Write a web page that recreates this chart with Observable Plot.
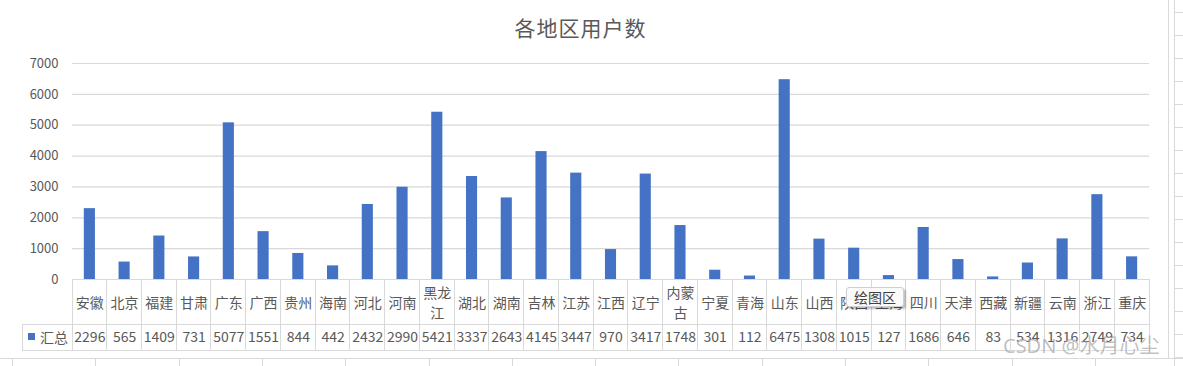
<!DOCTYPE html>
<html>
<head>
<meta charset="utf-8">
<script src="https://cdn.jsdelivr.net/npm/d3@7"></script>
<script src="https://cdn.jsdelivr.net/npm/@observablehq/plot@0.6"></script>
<style>
  body { margin: 0; background: #fff; }
  #wrap { position: relative; width: 1183px; height: 366px; overflow: hidden;
          font-family: "Noto Sans CJK SC", "Noto Sans", sans-serif; color: #595959; background: #fff; }
  .abs { position: absolute; }
  .hl { position: absolute; height: 1px; background: #d9d9d9; }
  .vl { position: absolute; width: 1px; background: #d9d9d9; }
</style>
</head>
<body>
<div id="wrap"></div>
<script>
// ---- data ----
const chartTitle = "各地区用户数";
const seriesName = "汇总";
const regions = ["安徽","北京","福建","甘肃","广东","广西","贵州","海南","河北","河南","黑龙江","湖北","湖南","吉林","江苏","江西","辽宁","内蒙古","宁夏","青海","山东","山西","陕西","上海","四川","天津","西藏","新疆","云南","浙江","重庆"];
const users = [2296,565,1409,731,5077,1551,844,442,2432,2990,5421,3337,2643,4145,3447,970,3417,1748,301,112,6475,1308,1015,127,1686,646,83,534,1316,2749,734];
const yTicks = [0,1000,2000,3000,4000,5000,6000,7000];
const tooltipText = "绘图区";
const watermark = "CSDN @水月心尘";

const data = regions.map((r, i) => ({ region: r, users: users[i] }));
const wrap = document.getElementById("wrap");
const FONT = '"Noto Sans CJK SC", "Noto Sans", sans-serif';
const GREY = "#595959";
const LINE = "#d9d9d9";
const BLUE = "#4472c4";

// ---- spreadsheet background lines (outside the chart) ----
function hline(x, y, w) { const d = document.createElement("div"); d.className = "hl"; d.style.left = x + "px"; d.style.top = y + "px"; d.style.width = w + "px"; wrap.appendChild(d); }
function vline(x, y, h) { const d = document.createElement("div"); d.className = "vl"; d.style.left = x + "px"; d.style.top = y + "px"; d.style.height = h + "px"; wrap.appendChild(d); }
for (let y = 12; y < 366; y += 23) hline(1174, y, 20);
vline(1174, 0, 366);
vline(1168, 0, 358);
hline(0, 358, 1183);
for (let x = 12; x < 1168; x += 83.3) vline(Math.round(x), 358, 10);

// ---- title ----
const title = document.createElement("div");
title.className = "abs";
title.style.cssText = "left:0;top:12px;width:1161px;text-align:center;font-size:21px;line-height:30px;color:#595959;letter-spacing:1px;";
title.textContent = chartTitle;
wrap.appendChild(title);

// ---- chart (bars) ----
const chart = Plot.plot({
  width: 1183, height: 280,
  marginTop: 63, marginBottom: 1, marginLeft: 72, marginRight: 34,
  style: { fontFamily: FONT, fontSize: "13px", color: GREY, background: "transparent", overflow: "visible" },
  x: { domain: regions, paddingInner: 0.68, paddingOuter: 0.34, round: false, axis: null },
  y: { domain: [0, 7000], ticks: yTicks, tickSize: 0, tickPadding: 14, label: null, tickFormat: d => String(d) },
  marks: [
    Plot.ruleY(yTicks, { stroke: LINE, strokeWidth: 1.2 }),
    Plot.barY(data, { x: "region", y: "users", fill: BLUE })
  ]
});
const c1 = document.createElement("div");
c1.className = "abs"; c1.style.left = "0px"; c1.style.top = "0px";
c1.appendChild(chart);
wrap.appendChild(c1);

// ---- data table below ----
const table = Plot.plot({
  width: 1183, height: 87,
  marginTop: 0, marginBottom: 0, marginLeft: 72, marginRight: 34,
  style: { fontFamily: FONT, fontSize: "14px", color: GREY, background: "transparent", overflow: "visible" },
  x: { domain: regions, padding: 0, round: false, axis: null },
  y: { domain: [0, 87], range: [0, 87], axis: null },
  marks: [
    Plot.barY(data, { x: "region", y1: 0.5, y2: 45.5, fill: "none", stroke: LINE, shapeRendering: "crispEdges" }),
    Plot.barY(data, { x: "region", y1: 45.5, y2: 71.5, fill: "none", stroke: LINE, shapeRendering: "crispEdges" }),
    Plot.text(data, { x: "region", y: 22, text: d => d.region.length > 2 ? d.region.slice(0, 2) + "\n" + d.region.slice(2) : d.region,
                      fontSize: 14, fill: GREY, lineHeight: 1.43 }),
    Plot.text(data, { x: "region", y: 58, text: d => String(d.users), fontSize: 14, fill: GREY })
  ]
});
const c2 = document.createElement("div");
c2.className = "abs"; c2.style.left = "0px"; c2.style.top = "279px";
c2.appendChild(table);
wrap.appendChild(c2);

// legend cell of the data table
const leg = document.createElement("div");
leg.className = "abs";
leg.style.cssText = "left:22px;top:324px;width:50px;height:27px;border:1px solid #d9d9d9;border-right:none;box-sizing:border-box;";
const sw = document.createElement("div");
sw.className = "abs";
sw.style.cssText = "left:5px;top:8px;width:7px;height:7px;background:" + BLUE + ";";
leg.appendChild(sw);
const lt = document.createElement("div");
lt.className = "abs";
lt.style.cssText = "left:17px;top:2px;font-size:14px;line-height:20px;color:#595959;";
lt.textContent = seriesName;
leg.appendChild(lt);
wrap.appendChild(leg);

// tooltip overlay
const tip = document.createElement("div");
tip.className = "abs";
tip.style.cssText = "left:846px;top:287px;width:56px;height:18px;background:#fafafa;border:1px solid #cfcfcf;border-radius:3px;box-shadow:2px 2px 2px rgba(0,0,0,0.25);font-size:14px;line-height:18px;text-align:center;color:#404040;";
tip.textContent = tooltipText;
wrap.appendChild(tip);

// watermark
const wm = document.createElement("div");
wm.className = "abs";
wm.style.cssText = "left:1003px;top:333px;font-size:20px;line-height:26px;color:rgba(150,150,150,0.6);white-space:nowrap;text-shadow:1px 1px 0 rgba(255,255,255,0.8);font-family:'Noto Sans', 'Noto Sans CJK SC', sans-serif;";
wm.textContent = watermark;
wrap.appendChild(wm);
</script>
</body>
</html>
